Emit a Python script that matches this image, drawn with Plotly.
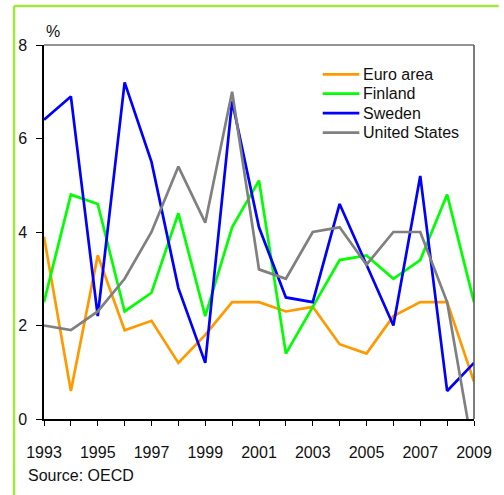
import plotly.graph_objects as go

years = list(range(1993, 2010))
euro_area = [3.9, 0.6, 3.5, 1.9, 2.1, 1.2, 1.8, 2.5, 2.5, 2.3, 2.4, 1.6, 1.4, 2.2, 2.5, 2.5, 0.8]
finland = [2.5, 4.8, 4.6, 2.3, 2.7, 4.4, 2.2, 4.1, 5.1, 1.4, 2.4, 3.4, 3.5, 3.0, 3.4, 4.8, 2.5]
sweden = [6.4, 6.9, 2.2, 7.2, 5.5, 2.8, 1.2, 6.8, 4.1, 2.6, 2.5, 4.6, 3.3, 2.0, 5.2, 0.6, 1.2]
united_states = [2.0, 1.9, 2.3, 3.0, 4.0, 5.4, 4.2, 7.0, 3.2, 3.0, 4.0, 4.1, 3.3, 4.0, 4.0, 2.5, -0.8]

series_names = ["Euro area", "Finland", "Sweden", "United States"]
series_values = [euro_area, finland, sweden, united_states]
series_colors = ["#FF9900", "#00FF00", "#0000FF", "#808080"]

x_tick_labels = [str(y) for y in range(1993, 2010, 2)]
y_ticks = [0, 2, 4, 6, 8]

FONT = "Liberation Sans, Arial, sans-serif"
TXT = "#111111"

fig = go.Figure()
for name, vals, col in zip(series_names, series_values, series_colors):
    fig.add_trace(go.Scatter(x=years, y=vals, mode="lines", name=name,
                             line=dict(color=col, width=2.7), showlegend=False))

W, H = 504, 495
L, R, T, B = 44, 479, 45, 419
pw, ph = R - L, B - T

def px(xp):
    return (xp - L) / pw

def py(yp):
    return (B - yp) / ph

shapes = [
    dict(type="line", xref="paper", yref="paper", x0=0, x1=1, y0=1, y1=1,
         line=dict(color="#707070", width=1.5)),
    dict(type="line", xref="paper", yref="paper", x0=1, x1=1, y0=0, y1=1,
         line=dict(color="#505050", width=1.5)),
    dict(type="line", xref="paper", yref="paper", x0=px(13.7), x1=px(504), y0=py(6), y1=py(6),
         line=dict(color="#A2E83E", width=2.5)),
    dict(type="line", xref="paper", yref="paper", x0=px(13.7), x1=px(13.7), y0=py(6), y1=py(495),
         line=dict(color="#A2E83E", width=2.5)),
]
annotations = [
    dict(text="%", xref="paper", yref="paper", x=px(53), y=py(31.5),
         xanchor="center", yanchor="middle", showarrow=False,
         font=dict(family=FONT, size=16, color=TXT)),
    dict(text="Source: OECD", xref="paper", yref="paper", x=px(26), y=py(475),
         xanchor="left", yanchor="middle", showarrow=False,
         font=dict(family=FONT, size=16, color=TXT)),
]

# legend drawn as samples + real text
legend_rows = [74.3, 93.7, 113.2, 132.7]
for name, col, ry in zip(series_names, series_colors, legend_rows):
    shapes.append(dict(type="line", xref="paper", yref="paper",
                       x0=px(326), x1=px(363), y0=py(ry), y1=py(ry),
                       line=dict(color=col, width=2.7)))
    annotations.append(dict(text=name, xref="paper", yref="paper", x=px(365), y=py(ry),
                            xanchor="left", yanchor="middle", showarrow=False,
                            font=dict(family=FONT, size=16, color=TXT)))

fig.update_layout(
    width=W, height=H,
    margin=dict(l=L, r=W - R, t=T, b=H - B),
    paper_bgcolor="white", plot_bgcolor="white",
    font=dict(family=FONT, size=16, color=TXT),
    showlegend=False,
    xaxis=dict(range=[1993, 2009], tickvals=[int(t) for t in x_tick_labels],
               ticktext=x_tick_labels,
               ticks="outside", ticklen=5, tickwidth=1, tickcolor="#000000",
               minor=dict(dtick=1, tick0=1993, ticks="outside", ticklen=5, tickcolor="#000000", tickwidth=1),
               showline=True, linecolor="#000000", linewidth=1.5,
               showgrid=False, zeroline=False, ticklabelstandoff=13,
               tickfont=dict(family=FONT, size=16, color=TXT)),
    yaxis=dict(range=[0, 8], tickvals=y_ticks,
               ticks="outside", ticklen=6, tickwidth=1, tickcolor="#000000",
               showline=True, linecolor="#000000", linewidth=1.5,
               showgrid=False, zeroline=False, ticklabelstandoff=6,
               tickfont=dict(family=FONT, size=16, color=TXT)),
    shapes=shapes,
    annotations=annotations,
)

fig.write_html("out.html", config={"displayModeBar": False},
               post_script="document.body.style.margin='0';document.body.style.overflow='hidden';")
